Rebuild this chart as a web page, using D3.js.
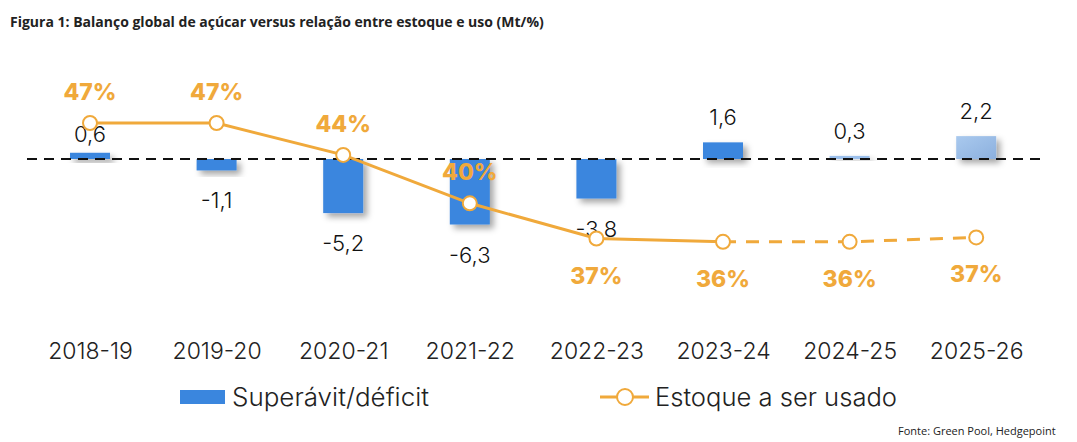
<!DOCTYPE html>
<html><head><meta charset="utf-8">
<script src="https://cdn.jsdelivr.net/npm/d3@7"></script>
<style>body{margin:0;background:#fff}svg{display:block}</style>
</head><body>
<svg id="c" width="1077" height="442"></svg>
<script>
const categories = ["2018-19","2019-20","2020-21","2021-22","2022-23","2023-24","2024-25","2025-26"];
const balance = [0.6, -1.1, -5.2, -6.3, -3.8, 1.6, 0.3, 2.2];
const stockUse = [47.0, 47.0, 44.1, 39.7, 36.5, 36.2, 36.2, 36.6];
const forecast = [false,false,false,false,false,false,true,true];
const legendLabels = ["Superávit/déficit","Estoque a ser usado"];
const title = "Figura 1: Balanço global de açúcar versus relação entre estoque e uso (Mt/%)";
const source = "Fonte: Green Pool, Hedgepoint";

const svg = d3.select("#c");
const blue = "#3a86de", orange = "#f0a93b";
const numFont = "Inter, 'Open Sans', sans-serif";

const defs = svg.append("defs");
const f = defs.append("filter").attr("id","sh").attr("x","-30%").attr("y","-30%").attr("width","180%").attr("height","180%");
f.append("feDropShadow").attr("dx",4).attr("dy",4).attr("stdDeviation",3).attr("flood-color","#000").attr("flood-opacity",0.35);
const g1 = defs.append("linearGradient").attr("id","fc").attr("x1",0).attr("y1",0).attr("x2",1).attr("y2",1);
g1.append("stop").attr("offset","0%").attr("stop-color","#a9c9ee");
g1.append("stop").attr("offset","100%").attr("stop-color","#8cb0de");

const x = d3.scalePoint().domain(categories).range([26.7, 1039.5]).padding(0.5);
const yB = d3.scaleLinear().domain([-8, 4]).range([242.2, 117.4]);
const yL = d3.scaleLinear().domain([36, 47]).range([244, 123]);
const bw = 40;

svg.append("text").attr("x",10).attr("y",27).attr("font-family","'Open Sans', sans-serif")
  .attr("font-weight",700).attr("font-size",14).attr("fill","#222").text(title);

// bars
svg.append("g").selectAll("rect").data(balance).join("rect")
  .attr("x",(d,i)=>x(categories[i])-bw/2)
  .attr("y",d=>yB(Math.max(0,d)))
  .attr("width",bw)
  .attr("height",d=>Math.abs(yB(d)-yB(0)))
  .attr("fill",(d,i)=>forecast[i] ? (i===categories.length-1?"url(#fc)":"#9cc0ec") : blue)
  .attr("filter","url(#sh)");

// zero line
svg.append("line").attr("x1",27).attr("x2",1040).attr("y1",yB(0)).attr("y2",yB(0))
  .attr("stroke","#111").attr("stroke-width",1.8).attr("stroke-dasharray","10,7");

// bar labels
const fmt = d => d3.format(".1f")(d).replace(".",",").replace("−","-");
svg.append("g").selectAll("text").data(balance).join("text")
  .attr("x",(d,i)=>x(categories[i]))
  .attr("y",(d,i)=> d>=0 ? yB(d)-(i===0?11:17) : yB(d)+38)
  .attr("text-anchor","middle").attr("font-family",numFont).attr("font-weight",300)
  .attr("font-size",22).attr("fill","#111").text(fmt);

// line
const pts = stockUse.map((v,i)=>[x(categories[i]), yL(v)]);
const line = d3.line();
svg.append("path").attr("d",line(pts.slice(0,6))).attr("fill","none").attr("stroke",orange).attr("stroke-width",3);
svg.append("path").attr("d",line(pts.slice(5))).attr("fill","none").attr("stroke",orange).attr("stroke-width",3).attr("stroke-dasharray","13,10");
svg.append("g").selectAll("circle").data(pts).join("circle")
  .attr("cx",d=>d[0]).attr("cy",d=>d[1]).attr("r",7).attr("fill","#fff").attr("stroke",orange).attr("stroke-width",2);

// pct labels
svg.append("g").selectAll("text").data(stockUse).join("text")
  .attr("x",(d,i)=>x(categories[i]))
  .attr("y",(d,i)=> i<4 ? yL(d)-23 : yL(d)+45)
  .attr("text-anchor","middle").attr("font-family",numFont).attr("font-weight",800)
  .attr("font-size",23).attr("fill",orange).text(d=>Math.round(d)+"%");

// x axis
const ax = svg.append("g").attr("transform","translate(0,359)").call(d3.axisBottom(x).tickSize(0).tickPadding(0));
ax.select(".domain").remove();
ax.selectAll("text").attr("font-family",numFont).attr("font-weight",300).attr("font-size",23).attr("fill","#222").attr("dy",0).attr("y",0);

// legend
const lg = svg.append("g");
lg.append("rect").attr("x",180).attr("y",390).attr("width",45).attr("height",14).attr("fill",blue);
lg.append("text").attr("x",232).attr("y",406).attr("font-family",numFont).attr("font-weight",300).attr("font-size",25)
  .attr("fill","#222").attr("textLength",197).attr("lengthAdjust","spacingAndGlyphs").text(legendLabels[0]);
lg.append("line").attr("x1",600).attr("x2",649).attr("y1",397).attr("y2",397).attr("stroke",orange).attr("stroke-width",3);
lg.append("circle").attr("cx",625).attr("cy",397).attr("r",8).attr("fill","#fff").attr("stroke",orange).attr("stroke-width",2);
lg.append("text").attr("x",655).attr("y",406).attr("font-family",numFont).attr("font-weight",300).attr("font-size",25)
  .attr("fill","#222").attr("textLength",242).attr("lengthAdjust","spacingAndGlyphs").text(legendLabels[1]);

svg.append("text").attr("x",898).attr("y",435).attr("font-family","'Open Sans', sans-serif").attr("font-size",11)
  .attr("fill","#222").text(source);
</script>
</body></html>
